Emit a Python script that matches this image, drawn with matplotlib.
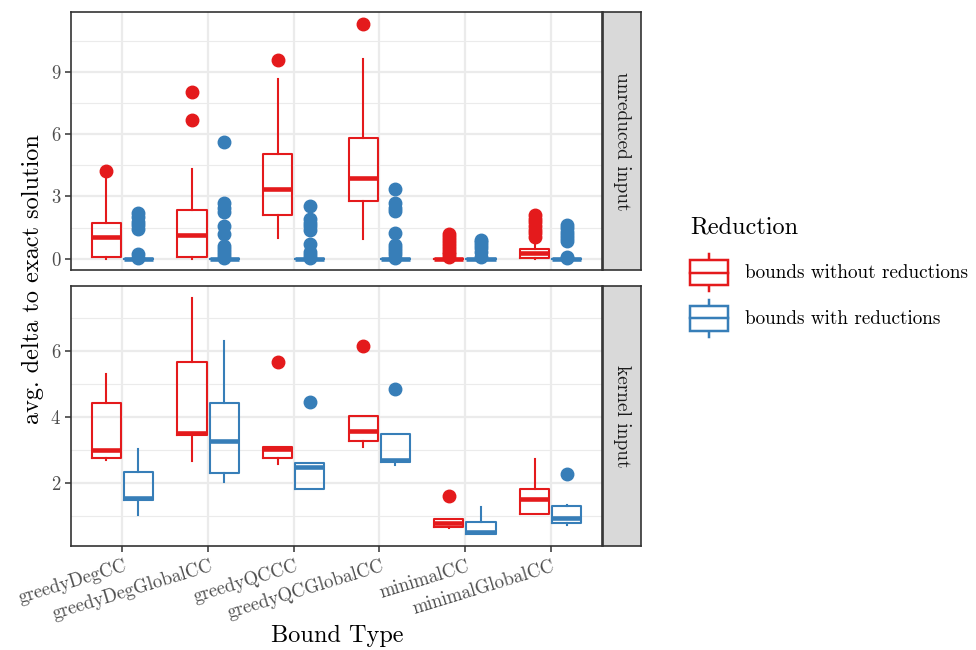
import matplotlib.pyplot as plt
from matplotlib.legend_handler import HandlerBase
from matplotlib.patches import Rectangle
from matplotlib.lines import Line2D
from matplotlib.transforms import blended_transform_factory, ScaledTranslation

plt.rcParams['font.family'] = ['cmr10', 'DejaVu Serif']
plt.rcParams['mathtext.fontset'] = 'cm'
plt.rcParams['axes.formatter.use_mathtext'] = True

bound_types = ['greedyDegCC', 'greedyDegGlobalCC', 'greedyQCCC',
               'greedyQCGlobalCC', 'minimalCC', 'minimalGlobalCC']
groups = ['bounds without reductions', 'bounds with reductions']
colors = ['#E41A1C', '#377EB8']
panels = ['unreduced input', 'kernel input']

# box stats: (q1, median, q3, whisker low, whisker high, outliers)
unreduced_without = [
    (0.10, 1.02, 1.73, 0.00, 3.90, [4.23]),
    (0.10, 1.12, 2.36, 0.00, 4.30, [6.70, 8.05]),
    (2.12, 3.37, 5.05, 1.00, 8.65, [9.57]),
    (2.76, 3.88, 5.80, 0.95, 9.65, [11.33]),
    (0.00, 0.00, 0.00, 0.00, 0.00, [0.10, 0.20, 0.30, 0.45, 0.60, 0.75, 0.90, 1.05, 1.20]),
    (0.02, 0.25, 0.45, 0.00, 0.90, [1.05, 1.25, 1.40, 1.55, 1.75, 1.90, 2.10]),
]
unreduced_with = [
    (0, 0, 0, 0, 0, [0.05, 0.20, 1.45, 1.60, 1.75, 2.00, 2.20]),
    (0, 0, 0, 0, 0, [0.05, 0.15, 0.30, 0.45, 0.60, 1.20, 1.55, 2.25, 2.45, 2.68, 5.63]),
    (0, 0, 0, 0, 0, [0.05, 0.15, 0.30, 0.70, 1.40, 1.55, 1.70, 1.90, 2.55]),
    (0, 0, 0, 0, 0, [0.05, 0.20, 0.35, 0.50, 0.68, 1.23, 2.30, 2.45, 2.68, 3.37]),
    (0, 0, 0, 0, 0, [0.10, 0.30, 0.50, 0.65, 0.80, 0.92]),
    (0, 0, 0, 0, 0, [0.05, 0.10, 0.85, 1.00, 1.15, 1.30, 1.48, 1.63]),
]
kernel_without = [
    (2.77, 3.00, 4.43, 2.70, 5.30, []),
    (3.45, 3.52, 5.68, 2.68, 7.60, []),
    (2.75, 3.03, 3.10, 2.58, 3.10, [5.66]),
    (3.28, 3.59, 4.04, 3.10, 4.04, [6.15]),
    (0.66, 0.80, 0.93, 0.63, 0.93, [1.61]),
    (1.08, 1.51, 1.84, 1.08, 2.73, []),
]
kernel_with = [
    (1.48, 1.56, 2.35, 1.03, 3.03, []),
    (2.30, 3.28, 4.43, 2.04, 6.31, []),
    (1.84, 2.50, 2.60, 1.82, 2.60, [4.46]),
    (2.63, 2.70, 3.48, 2.55, 3.48, [4.84]),
    (0.45, 0.52, 0.83, 0.45, 1.28, []),
    (0.81, 0.96, 1.31, 0.73, 1.35, [2.29]),
]

panel_data = [(unreduced_without, unreduced_with), (kernel_without, kernel_with)]
panel_ylim = [(-0.55, 11.9), (0.1, 7.97)]
panel_major = [[0, 3, 6, 9], [2, 4, 6]]
panel_minor = [[1.5, 4.5, 7.5, 10.5], [1, 3, 5, 7]]

W, H = 976, 650
fig = plt.figure(figsize=(W / 100, H / 100), dpi=100)

def frac(x0, y0, x1, y1):
    return [x0 / W, 1 - y1 / H, (x1 - x0) / W, (y1 - y0) / H]

axes_px = [(71, 12, 602, 270), (71, 286, 602, 546)]
lw = 1.5
for p, (x0, y0, x1, y1) in enumerate(axes_px):
    ax = fig.add_axes(frac(x0, y0, x1, y1))
    ax.set_facecolor('white')
    for g, (stats, col) in enumerate(zip(panel_data[p], colors)):
        bxp_stats = [dict(q1=s[0], med=s[1], q3=s[2], whislo=s[3], whishi=s[4],
                          fliers=s[5]) for s in stats]
        pos = [i + (g - 0.5) * 0.375 for i in range(len(bound_types))]
        ax.bxp(bxp_stats, positions=pos, widths=0.34, showcaps=False,
               boxprops=dict(color=col, linewidth=lw),
               whiskerprops=dict(color=col, linewidth=lw),
               medianprops=dict(color=col, linewidth=lw * 2.2, solid_capstyle='butt'),
               flierprops=dict(marker='o', markerfacecolor=col, markeredgecolor=col,
                               markersize=9, linestyle='none'),
               manage_ticks=False, zorder=3)
    ax.set_xlim(-0.6, len(bound_types) - 0.4)
    ax.set_ylim(*panel_ylim[p])
    ax.set_xticks(range(len(bound_types)))
    ax.set_yticks(panel_major[p])
    ax.set_yticks(panel_minor[p], minor=True)
    ax.grid(True, which='major', color='#EBEBEB', linewidth=1.6, zorder=0)
    ax.grid(True, which='minor', axis='y', color='#EBEBEB', linewidth=0.8, zorder=0)
    ax.set_axisbelow(True)
    ax.tick_params(which='minor', length=0)
    ax.tick_params(which='major', length=4, width=1.1, color='#333333',
                   labelsize=13.5, labelcolor='#4D4D4D', pad=3)
    for sp in ax.spines.values():
        sp.set_color('#333333')
        sp.set_linewidth(1.2)
    ax.set_xticklabels([])
    if p == 0:
        ax.tick_params(axis='x', length=0)
    else:
        tr = blended_transform_factory(ax.transData, ax.transAxes)
        off = ScaledTranslation(1 / 72, -8 / 72, fig.dpi_scale_trans)
        for i, lab in enumerate(bound_types):
            ax.text(i, 0, lab, transform=tr + off, rotation=17, ha='right', va='top',
                    rotation_mode='anchor', fontsize=13.5, color='#4D4D4D')
    # facet strip
    sx = fig.add_axes(frac(603, y0, 641, y1))
    sx.set_facecolor('#D9D9D9')
    sx.set_xticks([])
    sx.set_yticks([])
    for sp in sx.spines.values():
        sp.set_color('#333333')
        sp.set_linewidth(1.2)
    sx.text(0.5, 0.5, panels[p], rotation=-90, ha='center', va='center',
            fontsize=14, color='#1A1A1A', transform=sx.transAxes)

fig.text(33 / W, 1 - 279 / H, 'avg. delta to exact solution', rotation=90,
         ha='center', va='center', fontsize=17.5)
fig.text(337 / W, 1 - 636 / H, 'Bound Type', ha='center', va='center', fontsize=17.5)


class BoxHandler(HandlerBase):
    def create_artists(self, legend, orig_handle, xdescent, ydescent, width, height,
                       fontsize, trans):
        col = orig_handle.get_color()
        x0, x1 = -xdescent, -xdescent + width
        y0, y1 = -ydescent + 0.16 * height, -ydescent + 0.84 * height
        xm = (x0 + x1) / 2
        ym = (y0 + y1) / 2
        rect = Rectangle((x0, y0), x1 - x0, y1 - y0, facecolor='white', edgecolor=col,
                         linewidth=lw * 1.2, transform=trans)
        med = Line2D([x0, x1], [ym, ym], color=col, linewidth=lw * 1.2, transform=trans)
        w1 = Line2D([xm, xm], [y1, -ydescent + height], color=col, linewidth=lw * 1.2,
                    transform=trans)
        w2 = Line2D([xm, xm], [-ydescent, y0], color=col, linewidth=lw * 1.2,
                    transform=trans)
        return [w1, w2, rect, med]


handles = [Line2D([], [], color=c) for c in colors]
leg = fig.legend(handles, groups, handler_map={Line2D: BoxHandler()},
                 loc='upper left', bbox_to_anchor=(690 / W, 1 - 216 / H),
                 frameon=False, title='Reduction', title_fontsize=17.5, fontsize=13.75,
                 handlelength=2.0, handleheight=2.6, handletextpad=0.9,
                 labelspacing=0.47, borderaxespad=0, borderpad=0)
leg._legend_box.align = 'left'
leg._legend_box.sep = 0.47 * 13.75 + 5

fig.savefig('out.png', dpi=100)
